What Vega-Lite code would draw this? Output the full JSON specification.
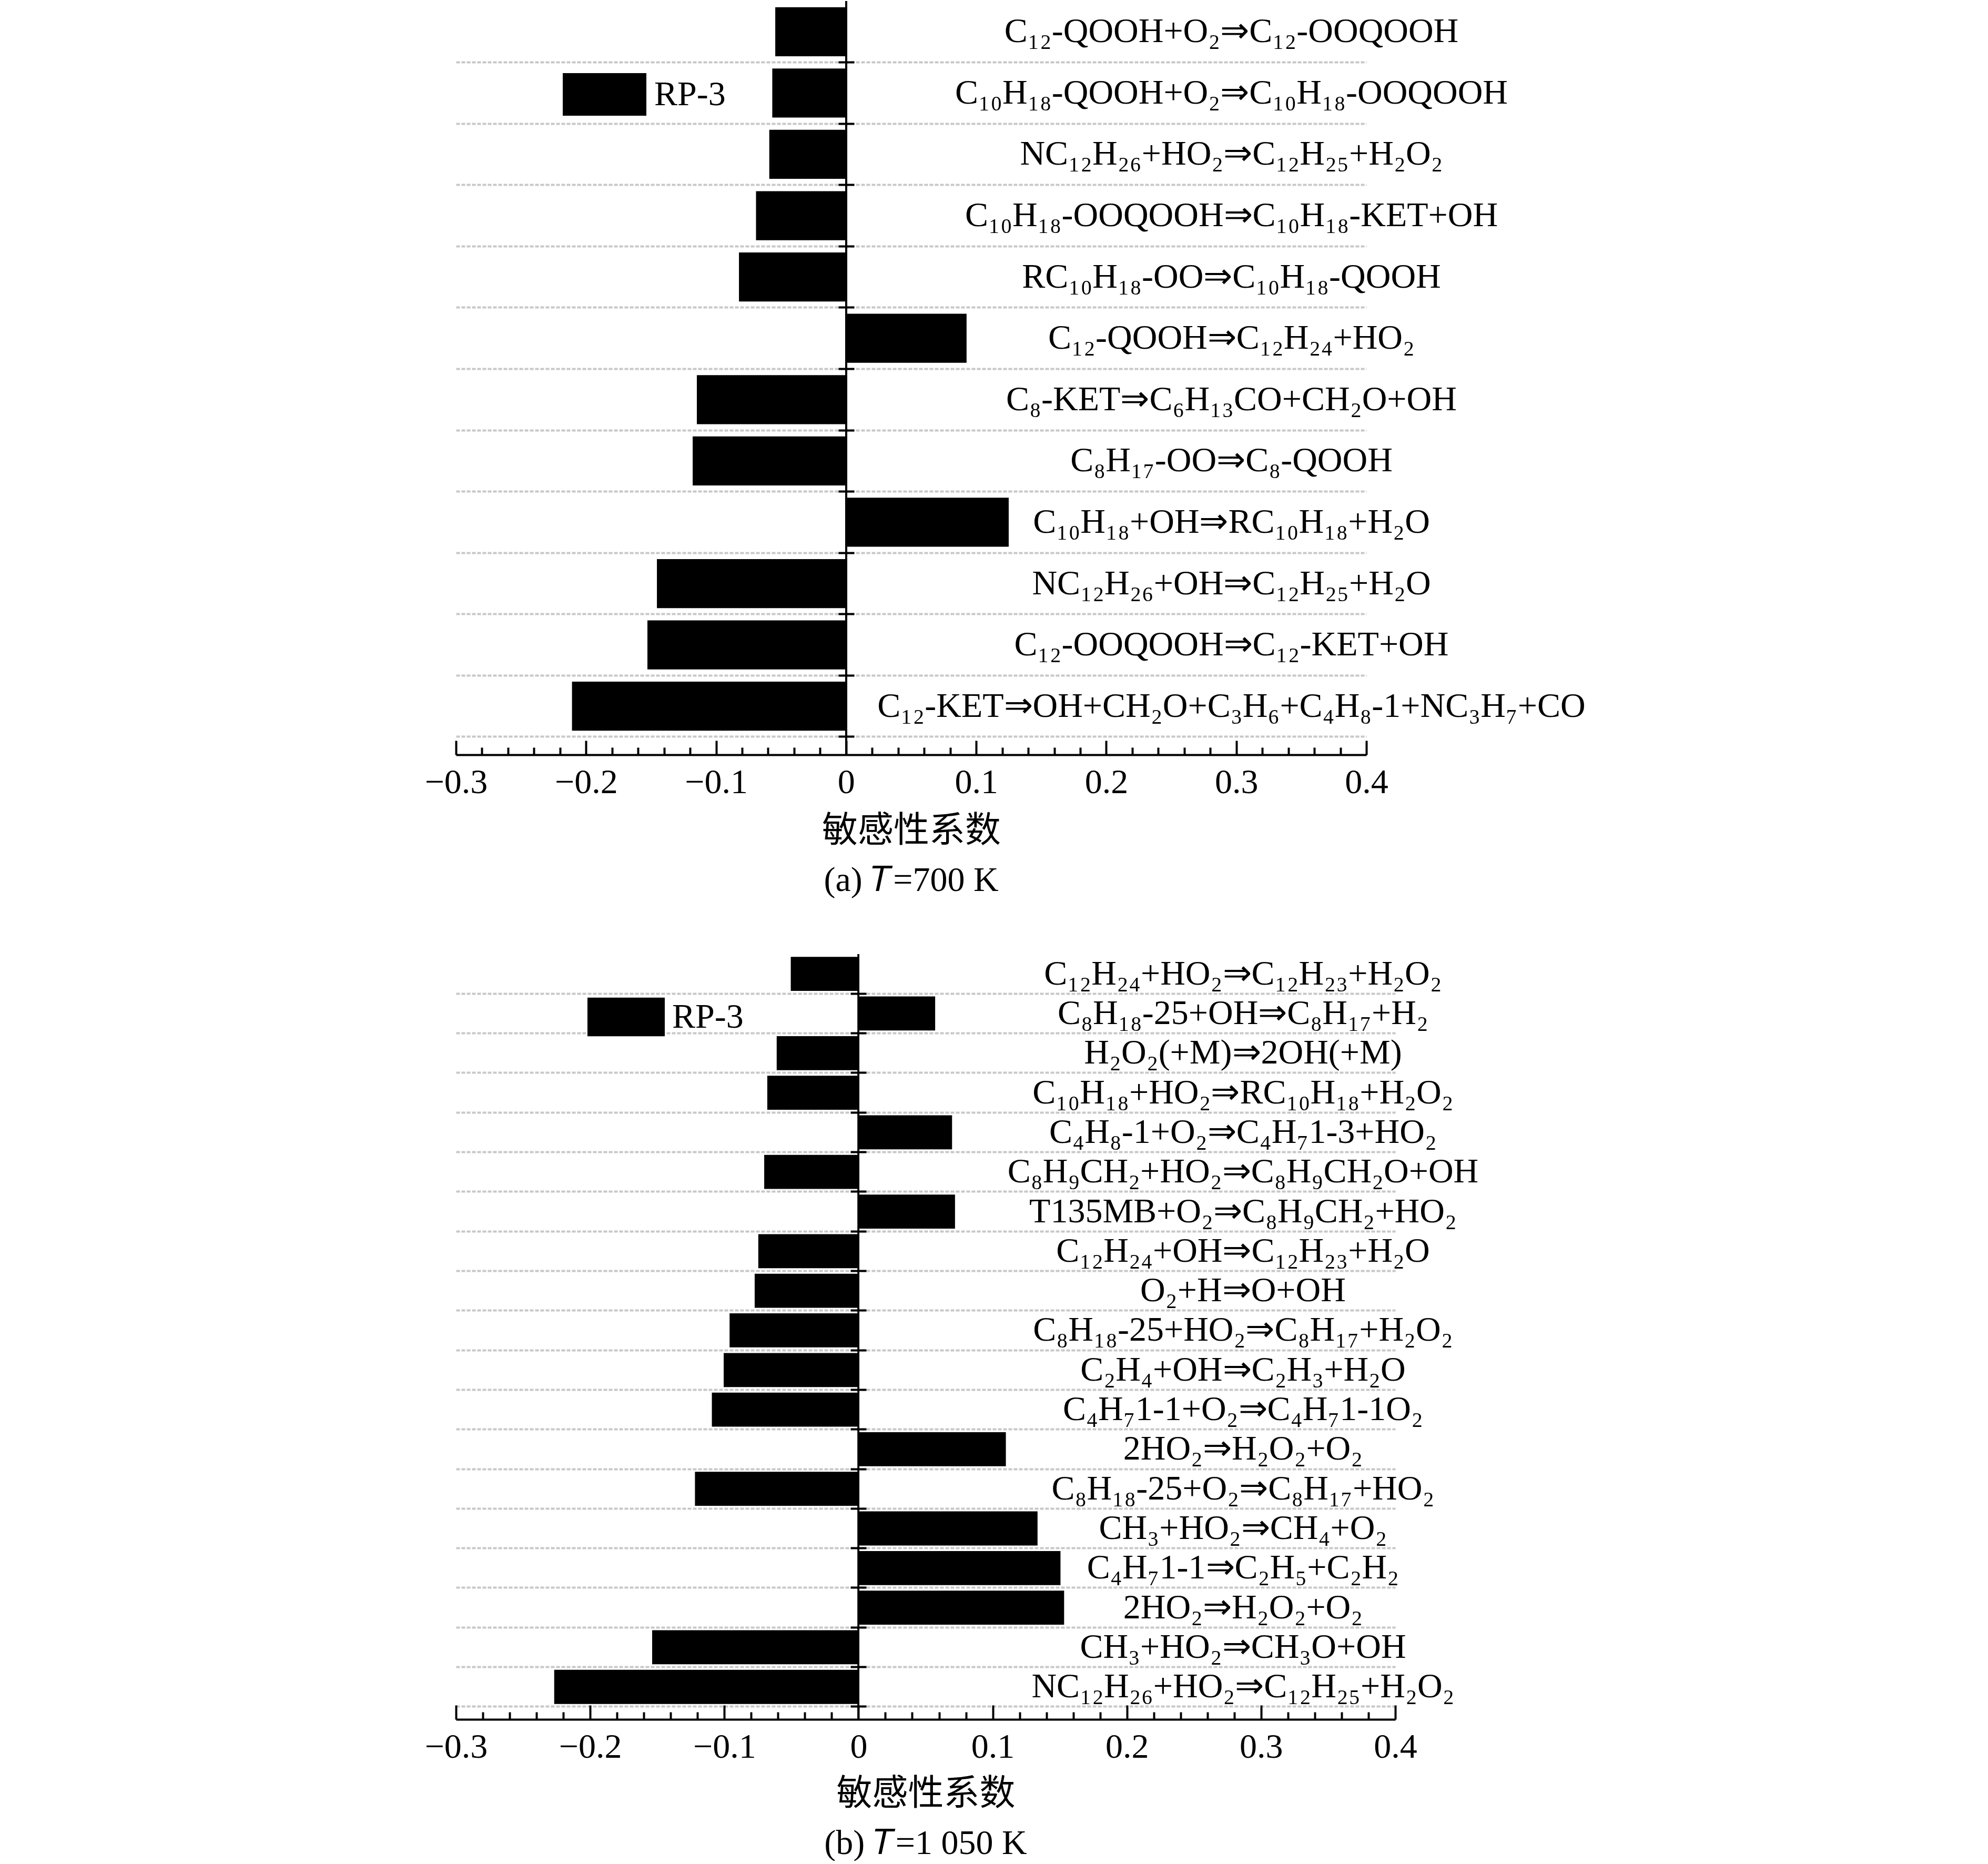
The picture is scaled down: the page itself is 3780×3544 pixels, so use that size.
{
  "$schema": "https://vega.github.io/schema/vega-lite/v6.json",
  "background": "white",
  "padding": {"left": 807, "top": 0, "right": 0, "bottom": 0},
  "bounds": "flush",
  "spacing": 379,
  "resolve": {"scale": {"color": "independent"}, "legend": {"color": "independent"}},
  "datasets": {
    "t700": [
      {"reaction": "C₁₂-QOOH+O₂⇒C₁₂-OOQOOH", "coef": -0.0545, "fuel": "RP-3"},
      {"reaction": "C₁₀H₁₈-QOOH+O₂⇒C₁₀H₁₈-OOQOOH", "coef": -0.0568, "fuel": "RP-3"},
      {"reaction": "NC₁₂H₂₆+HO₂⇒C₁₂H₂₅+H₂O₂", "coef": -0.0591, "fuel": "RP-3"},
      {"reaction": "C₁₀H₁₈-OOQOOH⇒C₁₀H₁₈-KET+OH", "coef": -0.0693, "fuel": "RP-3"},
      {"reaction": "RC₁₀H₁₈-OO⇒C₁₀H₁₈-QOOH", "coef": -0.0824, "fuel": "RP-3"},
      {"reaction": "C₁₂-QOOH⇒C₁₂H₂₄+HO₂", "coef": 0.0926, "fuel": "RP-3"},
      {"reaction": "C₈-KET⇒C₆H₁₃CO+CH₂O+OH", "coef": -0.1148, "fuel": "RP-3"},
      {"reaction": "C₈H₁₇-OO⇒C₈-QOOH", "coef": -0.118, "fuel": "RP-3"},
      {"reaction": "C₁₀H₁₈+OH⇒RC₁₀H₁₈+H₂O", "coef": 0.125, "fuel": "RP-3"},
      {"reaction": "NC₁₂H₂₆+OH⇒C₁₂H₂₅+H₂O", "coef": -0.1455, "fuel": "RP-3"},
      {"reaction": "C₁₂-OOQOOH⇒C₁₂-KET+OH", "coef": -0.1528, "fuel": "RP-3"},
      {"reaction": "C₁₂-KET⇒OH+CH₂O+C₃H₆+C₄H₈-1+NC₃H₇+CO", "coef": -0.2108, "fuel": "RP-3"}
    ],
    "t1050": [
      {"reaction": "C₁₂H₂₄+HO₂⇒C₁₂H₂₃+H₂O₂", "coef": -0.0505, "fuel": "RP-3"},
      {"reaction": "C₈H₁₈-25+OH⇒C₈H₁₇+H₂", "coef": 0.0571, "fuel": "RP-3"},
      {"reaction": "H₂O₂(+M)⇒2OH(+M)", "coef": -0.061, "fuel": "RP-3"},
      {"reaction": "C₁₀H₁₈+HO₂⇒RC₁₀H₁₈+H₂O₂", "coef": -0.068, "fuel": "RP-3"},
      {"reaction": "C₄H₈-1+O₂⇒C₄H₇1-3+HO₂", "coef": 0.0697, "fuel": "RP-3"},
      {"reaction": "C₈H₉CH₂+HO₂⇒C₈H₉CH₂O+OH", "coef": -0.0703, "fuel": "RP-3"},
      {"reaction": "T135MB+O₂⇒C₈H₉CH₂+HO₂", "coef": 0.0719, "fuel": "RP-3"},
      {"reaction": "C₁₂H₂₄+OH⇒C₁₂H₂₃+H₂O", "coef": -0.0747, "fuel": "RP-3"},
      {"reaction": "O₂+H⇒O+OH", "coef": -0.0774, "fuel": "RP-3"},
      {"reaction": "C₈H₁₈-25+HO₂⇒C₈H₁₇+H₂O₂", "coef": -0.0961, "fuel": "RP-3"},
      {"reaction": "C₂H₄+OH⇒C₂H₃+H₂O", "coef": -0.1005, "fuel": "RP-3"},
      {"reaction": "C₄H₇1-1+O₂⇒C₄H₇1-1O₂", "coef": -0.1093, "fuel": "RP-3"},
      {"reaction": "2HO₂⇒H₂O₂+O₂", "coef": 0.1098, "fuel": "RP-3"},
      {"reaction": "C₈H₁₈-25+O₂⇒C₈H₁₇+HO₂", "coef": -0.1219, "fuel": "RP-3"},
      {"reaction": "CH₃+HO₂⇒CH₄+O₂", "coef": 0.1334, "fuel": "RP-3"},
      {"reaction": "C₄H₇1-1⇒C₂H₅+C₂H₂", "coef": 0.1505, "fuel": "RP-3"},
      {"reaction": "2HO₂⇒H₂O₂+O₂ ", "coef": 0.1532, "fuel": "RP-3"},
      {"reaction": "CH₃+HO₂⇒CH₃O+OH", "coef": -0.1538, "fuel": "RP-3"},
      {"reaction": "NC₁₂H₂₆+HO₂⇒C₁₂H₂₅+H₂O₂", "coef": -0.2268, "fuel": "RP-3"}
    ]
  },
  "vconcat": [
    {
      "width": 1731,
      "height": 1433,
      "data": {"name": "t700"},
      "title": {"text": "(a) 𝑇=700 K", "orient": "bottom", "anchor": "middle", "offset": 28},
      "layer": [
        {
          "mark": {"type": "bar", "height": {"band": 0.8}, "color": "black"},
          "encoding": {
            "y": {
              "field": "reaction",
              "type": "nominal",
              "sort": null,
              "scale": {"paddingInner": 0, "paddingOuter": 0.146, "align": 0},
              "axis": {
                "orient": "left",
                "offset": -757,
                "domain": false,
                "tickSize": 30,
                "tickWidth": 4,
                "tickColor": "black",
                "bandPosition": 1,
                "grid": true,
                "gridColor": "#c8c8c8",
                "gridWidth": 4,
                "gridDash": [7, 3],
                "labelAlign": "center",
                "labelBaseline": "middle",
                "labelPadding": -747,
                "labelLimit": 0,
                "title": null
              }
            },
            "x": {
              "field": "coef",
              "type": "quantitative",
              "scale": {"domain": [-0.3, 0.4], "nice": false, "zero": false},
              "axis": {
                "values": [-0.3, -0.28, -0.26, -0.24, -0.22, -0.2, -0.18, -0.16, -0.14, -0.12, -0.1, -0.08, -0.06, -0.04, -0.02, 0, 0.02, 0.04, 0.06, 0.08, 0.1, 0.12, 0.14, 0.16, 0.18, 0.2, 0.22, 0.24, 0.26, 0.28, 0.3, 0.32, 0.34, 0.36, 0.38, 0.4],
                "labelExpr": "abs(datum.value*10-round(datum.value*10))<0.001 ? format(datum.value, '~g') : ''",
                "tickSize": {"condition": {"test": "abs(datum.value*10-round(datum.value*10))<0.001", "value": -27}, "value": -14},
                "tickWidth": 4,
                "tickColor": "black",
                "domainColor": "black",
                "domainWidth": 4,
                "grid": false,
                "labelFlush": false,
                "labelOverlap": false,
                "labelPadding": 47,
                "title": "敏感性系数",
                "titlePadding": 13
              }
            },
            "color": {
              "field": "fuel",
              "type": "nominal",
              "scale": {"range": ["#000000"]},
              "legend": {
                "orient": "none",
                "legendX": 203,
                "legendY": 98,
                "title": null,
                "padding": 0,
                "symbolType": "M-1,-0.51H1V0.51H-1Z",
                "symbolSize": 25281,
                "symbolStrokeWidth": 0,
                "labelOffset": 15
              }
            }
          }
        },
        {
          "mark": {"type": "rule", "color": "black", "strokeWidth": 3},
          "encoding": {"x": {"datum": 0}}
        }
      ]
    },
    {
      "width": 1786,
      "height": 1455,
      "data": {"name": "t1050"},
      "title": {"text": "(b) 𝑇=1 050 K", "orient": "bottom", "anchor": "middle", "offset": 28},
      "layer": [
        {
          "mark": {"type": "bar", "height": {"band": 0.86}, "color": "black"},
          "encoding": {
            "y": {
              "field": "reaction",
              "type": "nominal",
              "sort": null,
              "scale": {"paddingInner": 0, "paddingOuter": 0.16, "align": 0},
              "axis": {
                "orient": "left",
                "offset": -780,
                "domain": false,
                "tickSize": 30,
                "tickWidth": 4,
                "tickColor": "black",
                "bandPosition": 1,
                "grid": true,
                "gridColor": "#c8c8c8",
                "gridWidth": 4,
                "gridDash": [7, 3],
                "labelAlign": "center",
                "labelBaseline": "middle",
                "labelPadding": -746,
                "labelLimit": 0,
                "title": null
              }
            },
            "x": {
              "field": "coef",
              "type": "quantitative",
              "scale": {"domain": [-0.3, 0.4], "nice": false, "zero": false},
              "axis": {
                "values": [-0.3, -0.28, -0.26, -0.24, -0.22, -0.2, -0.18, -0.16, -0.14, -0.12, -0.1, -0.08, -0.06, -0.04, -0.02, 0, 0.02, 0.04, 0.06, 0.08, 0.1, 0.12, 0.14, 0.16, 0.18, 0.2, 0.22, 0.24, 0.26, 0.28, 0.3, 0.32, 0.34, 0.36, 0.38, 0.4],
                "labelExpr": "abs(datum.value*10-round(datum.value*10))<0.001 ? format(datum.value, '~g') : ''",
                "tickSize": {"condition": {"test": "abs(datum.value*10-round(datum.value*10))<0.001", "value": -27}, "value": -14},
                "tickWidth": 4,
                "tickColor": "black",
                "domainColor": "black",
                "domainWidth": 4,
                "grid": false,
                "labelFlush": false,
                "labelOverlap": false,
                "labelPadding": 47,
                "title": "敏感性系数",
                "titlePadding": 10
              }
            },
            "color": {
              "field": "fuel",
              "type": "nominal",
              "scale": {"range": ["#000000"]},
              "legend": {
                "orient": "none",
                "legendX": 250,
                "legendY": 46,
                "title": null,
                "padding": 0,
                "symbolType": "M-1,-0.5H1V0.5H-1Z",
                "symbolSize": 21609,
                "symbolStrokeWidth": 0,
                "labelOffset": 14
              }
            }
          }
        },
        {
          "mark": {"type": "rule", "color": "black", "strokeWidth": 3},
          "encoding": {"x": {"datum": 0}}
        }
      ]
    }
  ],
  "config": {
    "view": {"stroke": null},
    "font": "Liberation Serif",
    "axis": {
      "labelFont": "Liberation Serif",
      "labelFontSize": 66,
      "labelColor": "black",
      "titleFont": "Noto Sans CJK SC",
      "titleFontSize": 68,
      "titleFontWeight": "normal",
      "titleColor": "black"
    },
    "legend": {
      "labelFont": "Liberation Serif",
      "labelFontSize": 66,
      "labelColor": "black"
    },
    "title": {
      "font": "Liberation Serif",
      "fontSize": 66,
      "fontWeight": "normal",
      "color": "black"
    }
  }
}
